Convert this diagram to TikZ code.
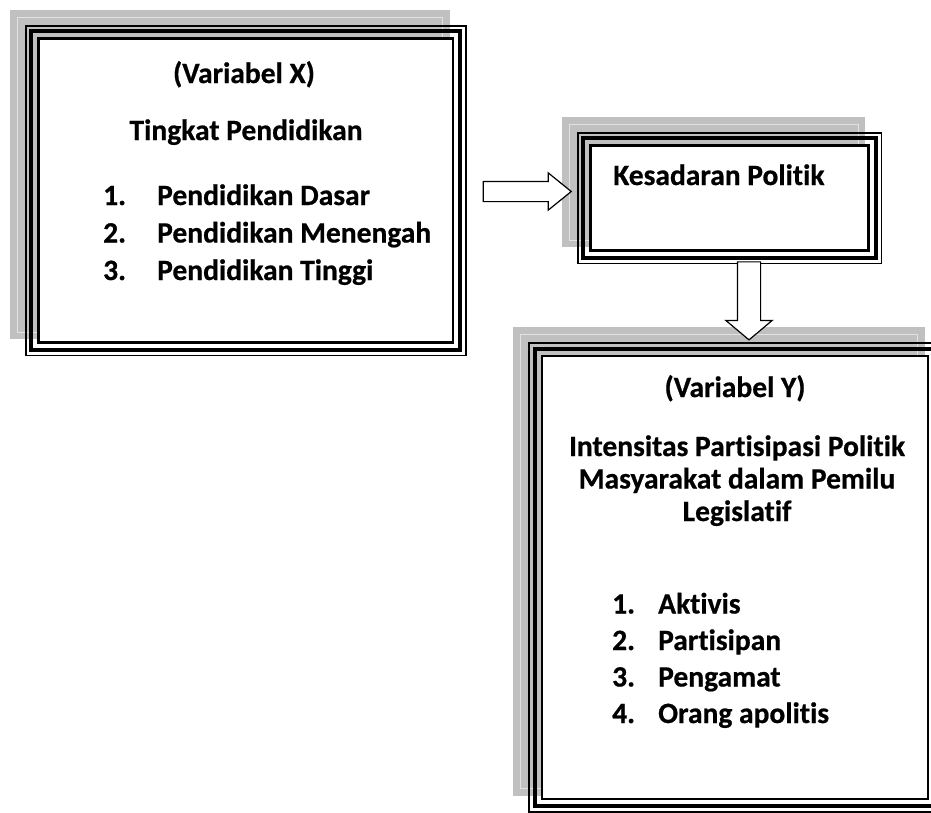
\documentclass[tikz,border=0pt]{standalone}
\usepackage{fontspec}
\setmainfont{Carlito}[Ligatures=NoCommon,BoldFeatures={FakeBold=0.6}]
\usepackage{tikz}
\usetikzlibrary{positioning,fit,shapes.arrows,backgrounds}
\definecolor{shadowgray}{HTML}{C0C0C0}
\definecolor{shadowline}{HTML}{E2E2E2}

\begin{document}
\begin{tikzpicture}[x=1pt,y=-1pt,
varbox/.style={draw,line width=2.4pt,fill=white,inner sep=0pt,outer sep=0pt},
thickframe/.style={draw,line width=4pt,inner sep=7.3pt,outer sep=0pt},
thinframe/.style={draw,line width=1.6pt,inner sep=12.8pt,outer sep=0pt},
shadowbox/.style={fill=shadowgray,inner sep=12.8pt,outer sep=0pt,xshift=-16pt,yshift=16pt},
shadowrule/.style={draw=shadowline,line width=0.8pt,inner sep=5.5pt,outer sep=0pt,xshift=-16pt,yshift=16pt},
blockarrow/.style={single arrow,draw,line width=1.2pt,fill=white,inner xsep=0pt,single arrow head indent=0pt},
txt/.style={font=\fontsize{29.5}{32.5}\selectfont\bfseries,inner sep=0pt},
lst/.style={font=\fontsize{29.5}{37.5}\selectfont\bfseries,inner sep=0pt,align=left}]
\clip (0,0) rectangle (931,812);
% variabel X
\node[varbox,minimum width=414.4pt,minimum height=304pt] (x1) at (245.8,190.6) {};
\node[thickframe,fit=(x1)] (x1mid) {};
\node[thinframe,fit=(x1)] (x1out) {};
% kesadaran politik
\node[varbox,minimum width=278pt,minimum height=105pt] (x2) at (729.5,198) {};
\node[thickframe,fit=(x2)] (x2mid) {};
\node[thinframe,fit=(x2)] (x2out) {};
% variabel Y
\node[varbox,minimum width=386pt,minimum height=443pt] (y) at (735,577.5) {};
\node[thickframe,fit=(y)] (ymid) {};
\node[thinframe,fit=(y)] (yout) {};
\begin{scope}[on background layer]
\foreach \b in {x1,x2,y}{
  \node[shadowbox,fit=(\b)] {};
  \node[shadowrule,fit=(\b)] {};
}
\end{scope}
% texts (multi-line nodes sit on their last baseline)
\node[txt,anchor=base] (x1head) at (244,83) {(Variabel X)};
\node[txt,anchor=base] (x1name) at (246,140) {Tingkat Pendidikan};
\node[lst,anchor=base west] (x1list) at (103,280) {\makebox[54pt][l]{1.}Pendidikan Dasar\\
  \makebox[54pt][l]{2.}Pendidikan Menengah\\\makebox[54pt][l]{3.}Pendidikan Tinggi};
\node[txt,anchor=base west] (x2name) at (613,185) {Kesadaran Politik};
\node[txt,anchor=base] (yhead) at (735,397) {(Variabel Y)};
\node[txt,anchor=base,align=center] (yname) at (737,521) {Intensitas Partisipasi Politik\\
  Masyarakat dalam Pemilu\\Legislatif};
\node[lst,anchor=base west,font=\fontsize{29.5}{36.5}\selectfont\bfseries] (ylist) at (612,723) {\makebox[46pt][l]{1.}Aktivis\\
  \makebox[46pt][l]{2.}Partisipan\\\makebox[46pt][l]{3.}Pengamat\\\makebox[46pt][l]{4.}Orang apolitis};
% arrows
\node[blockarrow,inner ysep=9.5pt,single arrow head extend=8.5pt,single arrow tip angle=78,minimum height=88pt] (x1tox2) at (521,191.5) {};
\node[blockarrow,rotate=-90,inner ysep=11pt,single arrow head extend=11.5pt,single arrow tip angle=100,minimum height=78pt] (x2toy) at (749,296) {};
\end{tikzpicture}
\end{document}
